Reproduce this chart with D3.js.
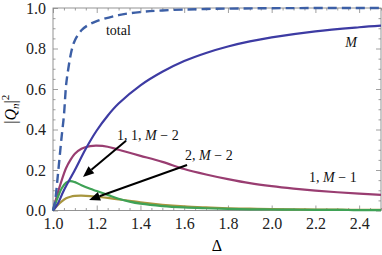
<!DOCTYPE html>
<html><head><meta charset="utf-8"><script src="https://cdn.jsdelivr.net/npm/d3@7"></script></head>
<body style="margin:0">
<svg id="chart" width="382" height="255"></svg>
<script>
// values
var deltaTotal = [1.0, 1.01, 1.02, 1.03, 1.04, 1.05, 1.06, 1.07, 1.085, 1.1, 1.13, 1.16, 1.2, 1.3, 1.4, 1.5, 1.7, 2.0, 2.5];
var total      = [0, 0.05, 0.15, 0.26, 0.37, 0.47, 0.62, 0.70, 0.79, 0.84, 0.89, 0.915, 0.935, 0.965, 0.98, 0.988, 0.995, 0.999, 1.0];

var deltaM = [1.0, 1.02, 1.05, 1.1, 1.15, 1.2, 1.25, 1.3, 1.4, 1.5, 1.6, 1.7, 1.8, 1.9, 2.0, 2.2, 2.4, 2.5];
var seriesM = [0, 0.03, 0.1, 0.2, 0.305, 0.395, 0.468, 0.528, 0.618, 0.685, 0.738, 0.778, 0.81, 0.835, 0.855, 0.885, 0.905, 0.913];

var deltaPeak = [1.0, 1.02, 1.04, 1.06, 1.08, 1.1, 1.13, 1.17, 1.2, 1.25, 1.3, 1.35, 1.4, 1.5, 1.6, 1.7, 1.8, 1.9, 2.0, 2.1, 2.2, 2.3, 2.4, 2.5];
var series1M1  = [0, 0.08, 0.15, 0.21, 0.25, 0.28, 0.305, 0.318, 0.32, 0.315, 0.30, 0.285, 0.27, 0.24, 0.205, 0.178, 0.155, 0.135, 0.12, 0.108, 0.098, 0.09, 0.083, 0.077];
var series2M2  = [0, 0.025, 0.045, 0.06, 0.068, 0.072, 0.073, 0.071, 0.068, 0.062, 0.055, 0.048, 0.04, 0.028, 0.02, 0.015, 0.011, 0.009, 0.007, 0.006, 0.005, 0.004, 0.003, 0.003];
var series11M2 = [0, 0.06, 0.11, 0.138, 0.145, 0.14, 0.125, 0.107, 0.096, 0.077, 0.058, 0.044, 0.034, 0.022, 0.015, 0.011, 0.008, 0.006, 0.005, 0.004, 0.003, 0.003, 0.002, 0.002];

var xTicks = [1.0, 1.2, 1.4, 1.6, 1.8, 2.0, 2.2, 2.4];
var yTicks = [0.0, 0.2, 0.4, 0.6, 0.8, 1.0];

var svg = d3.select("#chart");
var margin = { top: 8, right: 1, bottom: 44.5, left: 53 };
var width = 382 - margin.left - margin.right;
var height = 255 - margin.top - margin.bottom;

var x = d3.scaleLinear().domain([1.0, 2.5]).range([0, width]);
var y = d3.scaleLinear().domain([0, 1]).range([height, 0]);

var g = svg.append("g")
  .attr("transform", "translate(" + margin.left + "," + margin.top + ")");

// frame with ticks on all four sides
var minorX = d3.range(1.0, 2.5001, 0.05).filter(v => Math.abs(v * 5 - Math.round(v * 5)) > 1e-6);
var minorY = d3.range(0, 1.0001, 0.05).filter(v => Math.abs(v * 5 - Math.round(v * 5)) > 1e-6);

function frameAxis(axisFn, scale, major, minor, transform, labels) {
  var a = g.append("g").attr("transform", transform);
  a.call(axisFn(scale).tickValues(major).tickSize(-5).tickPadding(7)
    .tickFormat(labels ? d3.format(".1f") : ""));
  a.append("g").call(axisFn(scale).tickValues(minor).tickSize(-2.5).tickFormat(""));
  a.selectAll("path").remove();
  a.attr("font-family", "Liberation Serif").attr("font-size", 16);
  a.selectAll("line").attr("stroke", "#888").attr("stroke-width", 0.8);
  a.selectAll("text").attr("fill", "#222");
}

frameAxis(d3.axisBottom, x, xTicks, minorX, "translate(0," + height + ")", true);
frameAxis(d3.axisTop, x, xTicks, minorX, "translate(0,0)", false);
frameAxis(d3.axisLeft, y, yTicks, minorY, "translate(0,0)", true);
frameAxis(d3.axisRight, y, yTicks, minorY, "translate(" + width + ",0)", false);

g.append("rect")
  .attr("width", width).attr("height", height)
  .attr("fill", "none").attr("stroke", "#888").attr("stroke-width", 0.9);

// curves
function line(xs) {
  return d3.line()
    .x((d, i) => x(xs[i]))
    .y(d => y(d))
    .curve(d3.curveCatmullRom.alpha(0.5));
}

var curves = [
  { xs: deltaPeak, ys: series1M1, color: "#993d71", w: 2.2, dash: null },
  { xs: deltaPeak, ys: series2M2, color: "#a8963f", w: 2.2, dash: null },
  { xs: deltaPeak, ys: series11M2, color: "#3fa256", w: 2.2, dash: null },
  { xs: deltaM, ys: seriesM, color: "#3d3ba3", w: 2.2, dash: null },
  { xs: deltaTotal, ys: total, color: "#3c5fa6", w: 2.4, dash: "9,5" }
];
curves.forEach(function(c) {
  g.append("path").datum(c.ys).attr("d", line(c.xs))
    .attr("fill", "none").attr("stroke", c.color).attr("stroke-width", c.w)
    .attr("stroke-dasharray", c.dash);
});

// arrows, heads drawn as small triangles
var arrows = [
  { from: [1.334, 0.344], to: [1.137, 0.166] },
  { from: [1.613, 0.225], to: [1.165, 0.052] }
];
arrows.forEach(function(a) {
  var x1 = x(a.from[0]), y1 = y(a.from[1]), x2 = x(a.to[0]), y2 = y(a.to[1]);
  var ang = Math.atan2(y2 - y1, x2 - x1), L = 11, W = 4.5;
  var bx = x2 - L * Math.cos(ang), by = y2 - L * Math.sin(ang);
  g.append("line").attr("x1", x1).attr("y1", y1).attr("x2", bx).attr("y2", by)
    .attr("stroke", "#000").attr("stroke-width", 2);
  g.append("path")
    .attr("d", "M" + x2 + "," + y2 +
      "L" + (bx + W * Math.sin(ang)) + "," + (by - W * Math.cos(ang)) +
      "L" + (bx - W * Math.sin(ang)) + "," + (by + W * Math.cos(ang)) + "Z")
    .attr("fill", "#000");
});

// labels
function label(dx, dy, anchor, parts) {
  var t = g.append("text")
    .attr("x", x(dx)).attr("y", y(dy))
    .attr("text-anchor", anchor)
    .attr("font-family", "Liberation Serif")
    .attr("font-size", 14).attr("fill", "#111");
  parts.forEach(function(p) {
    t.append("tspan").text(p[0]).attr("font-style", p[1] ? "italic" : "normal");
  });
}
label(1.242, 0.869, "start", [["total", false]]);
label(2.363, 0.809, "middle", [["M", true]]);
label(2.28, 0.143, "middle", [["1, ", false], ["M", true], [" \u2212 1", false]]);
label(1.434, 0.349, "middle", [["1, 1, ", false], ["M", true], [" \u2212 2", false]]);
label(1.713, 0.25, "middle", [["2, ", false], ["M", true], [" \u2212 2", false]]);

// axis titles
svg.append("text")
  .attr("x", margin.left + width / 2).attr("y", 251)
  .attr("text-anchor", "middle").attr("font-family", "Liberation Serif").attr("font-size", 16)
  .text("\u0394");

var yl = svg.append("text")
  .attr("transform", "translate(16," + (margin.top + height / 2) + ") rotate(-90)")
  .attr("text-anchor", "middle").attr("font-family", "Liberation Serif").attr("font-size", 16);
yl.append("tspan").text("|");
yl.append("tspan").text("Q").attr("font-style", "italic");
yl.append("tspan").text("n").attr("font-style", "italic").attr("font-size", 11).attr("dy", 3);
yl.append("tspan").text("|").attr("dy", -3);
yl.append("tspan").text("2").attr("font-size", 11).attr("dy", -7);
</script>
</body>
</html>
